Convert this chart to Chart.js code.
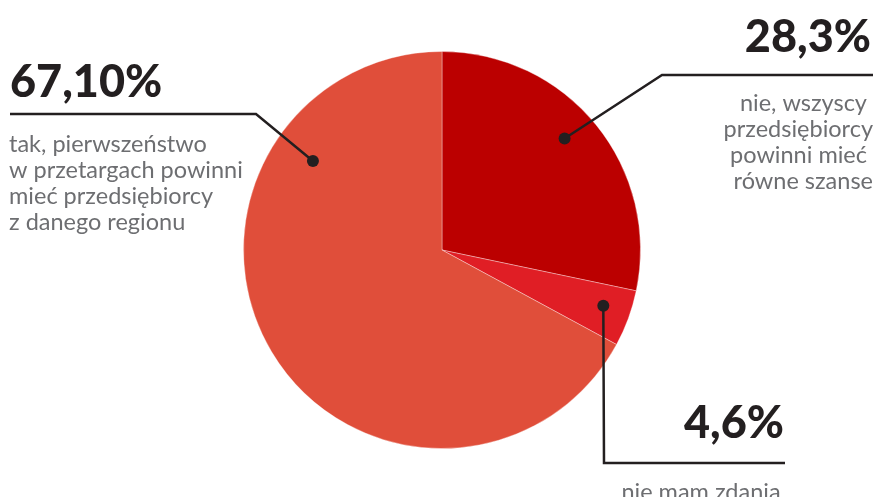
<!DOCTYPE html>
<html lang="pl">
  <head>
    <meta charset="utf-8" />
    <title>Pierwszeństwo w przetargach</title>
    <style>
      * {
        margin: 0;
        padding: 0;
      }
      body {
        background: white;
        overflow: hidden;
      }
    </style>
  </head>
  <body>
    <canvas id="myChart" width="880" height="497"></canvas>

    <script src="https://cdn.jsdelivr.net/npm/chart.js@4"></script>
    <script>
      // data block
      const categories = [
        ["nie, wszyscy ", "przedsiębiorcy", "powinni mieć ", "równe szanse"],
        ["nie mam zdania"],
        [
          "tak, pierwszeństwo",
          "w przetargach powinni",
          "mieć przedsiębiorcy",
          "z danego regionu",
        ],
      ];
      const shares = [28.3, 4.6, 67.1];
      const shareDecimals = [1, 1, 2];
      const sliceColors = ["#bb0000", "#e01e25", "#e04e3a"];

      const formatShare = (value, decimals) =>
        value.toFixed(decimals).replace(".", ",") + "%";

      // leader layout for each slice: dot placed inside the arc (angle in deg, radius fraction),
      // then a polyline out to the label block
      const leaders = [
        {
          angle: -42.3,
          r: 0.835,
          path: [
            [662, 75],
            [873, 75],
          ],
          valueAt: [871, 52],
          textAt: [873, 111],
          align: "right",
        },
        {
          angle: 19.1,
          r: 0.86,
          path: [
            [604, 463],
            [785, 463],
          ],
          valueAt: [784, 438],
          textAt: [701, 500],
          align: "center",
        },
        {
          angle: -145.4,
          r: 0.79,
          path: [
            [256, 114],
            [10, 114],
          ],
          valueAt: [10, 97],
          textAt: [9, 152],
          align: "left",
        },
      ];

      // pieLeaders plugin
      const pieLeaders = {
        id: "pieLeaders",
        afterDraw(chart, args, options) {
          const { ctx } = chart;
          const meta = chart.getDatasetMeta(0);
          const values = chart.data.datasets[0].data;

          ctx.save();
          meta.data.forEach((arc, i) => {
            const l = leaders[i];
            const a = (l.angle * Math.PI) / 180;
            const dx = arc.x + Math.cos(a) * arc.outerRadius * l.r;
            const dy = arc.y + Math.sin(a) * arc.outerRadius * l.r;

            ctx.strokeStyle = options.lineColor;
            ctx.lineWidth = options.lineWidth;
            ctx.lineJoin = "miter";
            ctx.beginPath();
            ctx.moveTo(dx, dy);
            l.path.forEach(([px, py]) => ctx.lineTo(px, py));
            ctx.stroke();

            ctx.fillStyle = options.lineColor;
            ctx.beginPath();
            ctx.arc(dx, dy, options.dotRadius, 0, Math.PI * 2);
            ctx.fill();

            // value
            ctx.textAlign = l.align === "center" ? "right" : l.align;
            ctx.textBaseline = "alphabetic";
            ctx.font = options.valueFont;
            ctx.fillStyle = options.valueColor;
            ctx.fillText(
              formatShare(values[i], shareDecimals[i]),
              l.valueAt[0],
              l.valueAt[1]
            );

            // description
            ctx.textAlign = l.align;
            ctx.font = options.textFont;
            ctx.fillStyle = options.textColor;
            chart.data.labels[i].forEach((line, j) => {
              ctx.fillText(line, l.textAt[0], l.textAt[1] + j * options.lineHeight);
            });
          });
          ctx.restore();
        },
      };

      // config block
      const config = {
        type: "pie",
        data: {
          labels: categories,
          datasets: [
            {
              data: shares,
              backgroundColor: sliceColors,
              borderColor: "rgba(255, 255, 255, 0.35)",
              borderWidth: 1,
            },
          ],
        },
        options: {
          responsive: false,
          animation: false,
          layout: {
            padding: { top: 51, bottom: 48, left: 243, right: 239 },
          },
          plugins: {
            legend: { display: false },
            tooltip: { enabled: false },
            pieLeaders: {
              lineColor: "#231f20",
              lineWidth: 2.5,
              dotRadius: 6,
              valueColor: "#231f20",
              valueFont: "900 45px Lato",
              textColor: "#6d6e71",
              textFont: "23.5px Lato",
              lineHeight: 26,
            },
          },
        },
        plugins: [pieLeaders],
      };

      // init render block
      const myChart = new Chart(document.getElementById("myChart"), config);
    </script>
  </body>
</html>
